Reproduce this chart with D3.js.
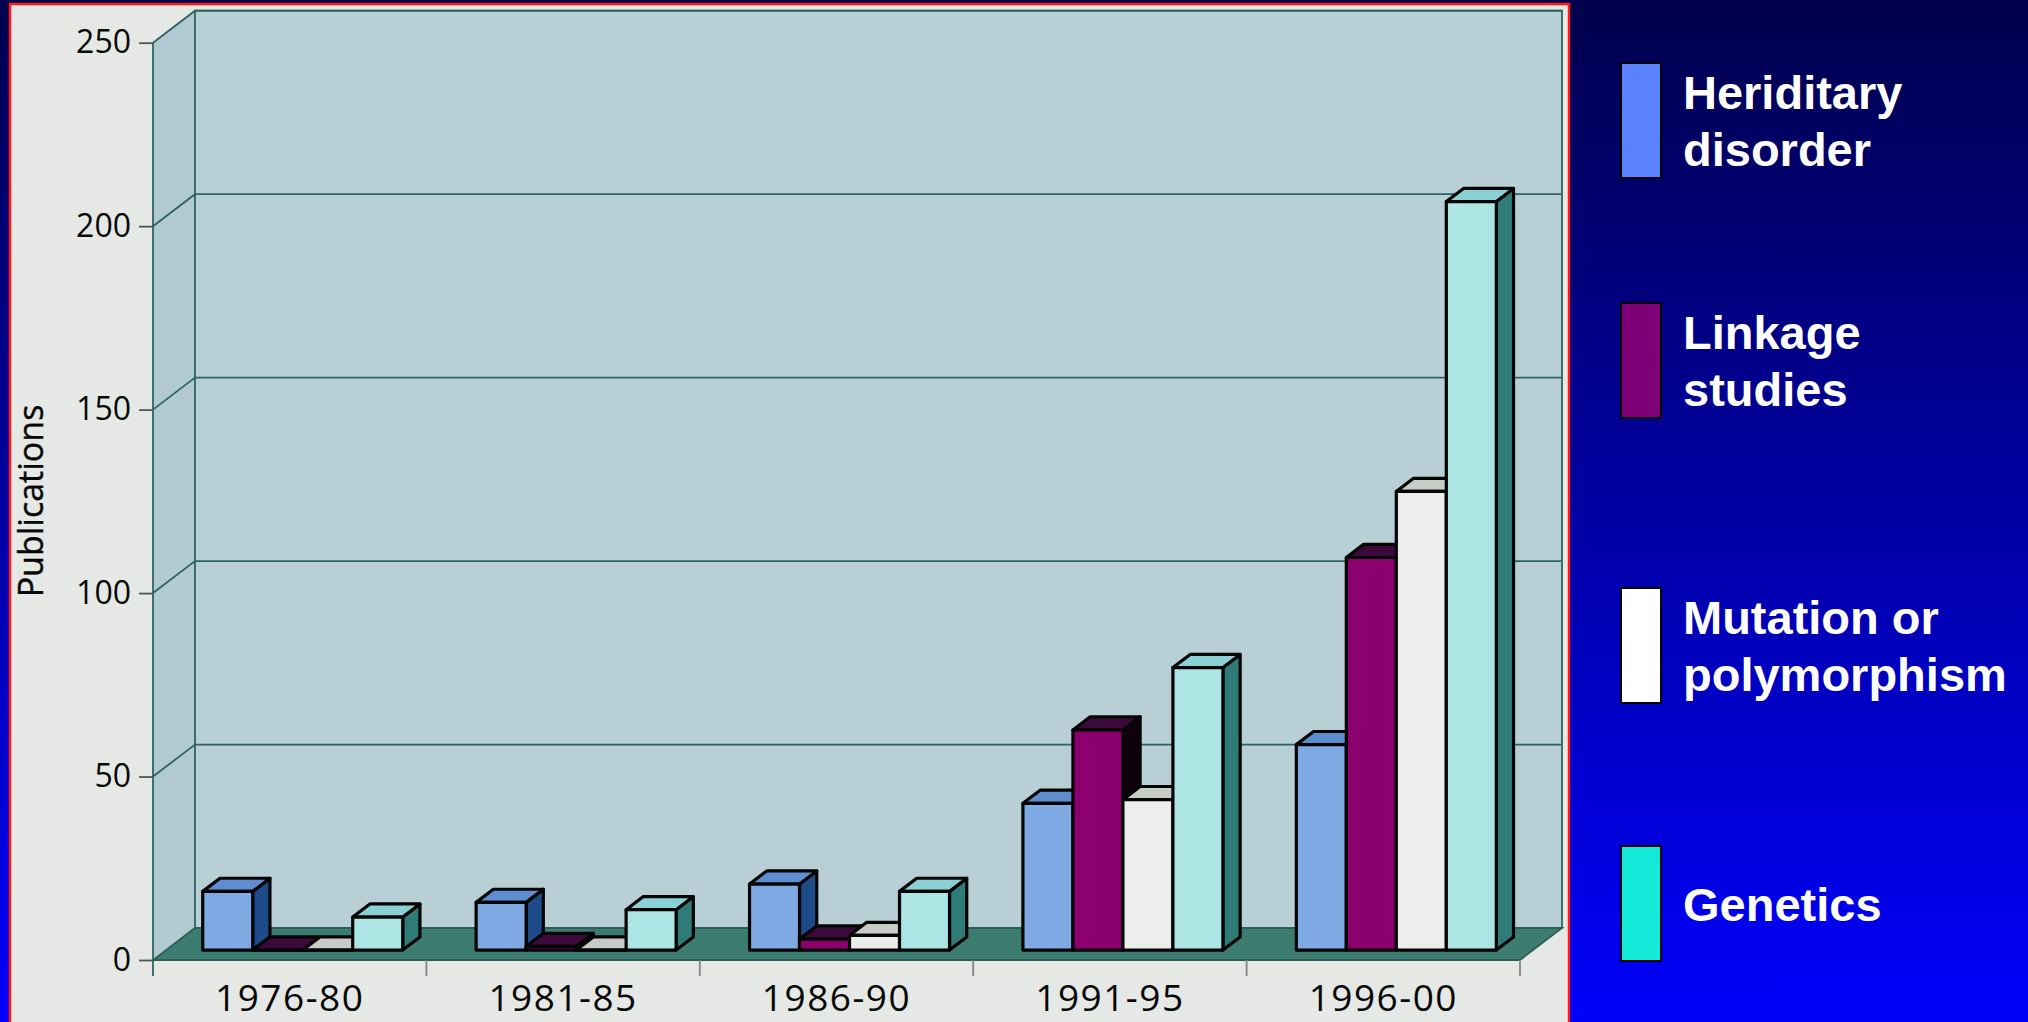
<!DOCTYPE html>
<html>
<head>
<meta charset="utf-8">
<script src="https://cdn.jsdelivr.net/npm/d3@7"></script>
<style>
  html, body { margin: 0; padding: 0; overflow: hidden; background: #00008a; }
  svg { display: block; }
</style>
</head>
<body>
<svg width="2028" height="1022"></svg>
<script>
// data
const periods = ["1976-80", "1981-85", "1986-90", "1991-95", "1996-00"];
const heriditary = [16, 13, 18, 40, 56];
const linkage = [0, 1, 3, 60, 107];
const mutation = [0, 0, 4, 41, 125];
const genetics = [9, 11, 16, 77, 204];
const seriesKeys = ["heriditary", "linkage", "mutation", "genetics"];
const legendLines = [["Heriditary", "disorder"], ["Linkage", "studies"], ["Mutation or", "polymorphism"], ["Genetics"]];
const yTicks = [0, 50, 100, 150, 200, 250];

const svg = d3.select("svg");
const width = 2028, height = 1022;

// colours: front / top / side for each series, plus the legend swatch
const palette = {
	heriditary: { front: "#7ea9e2", top: "#5e8dd0", side: "#1d4b8a", legend: "#5a82ff" },
	linkage: { front: "#8c006e", top: "#3b0a3b", side: "#0e000c", legend: "#7d0077" },
	mutation: { front: "#eceeeb", top: "#c7cdc6", side: "#9aa6a2", legend: "#ffffff" },
	genetics: { front: "#ade5e5", top: "#8bd0d5", side: "#2e7b77", legend: "#14e9d9" }
};

const plot = { left: 153, right: 1520, bottom: 960, top: 42.7 };
const depth = { dx: 42, dy: -32 };
const barZ = [0.31, 0.72];
const labelFont = "'Open Sans', 'Noto Sans', sans-serif";

//////////// BACKGROUND ////////////

const defs = svg.append("defs");
const grad = defs.append("linearGradient")
	.attr("id", "slideBg")
	.attr("x1", 0).attr("y1", 0).attr("x2", 0).attr("y2", 1);
grad.append("stop").attr("offset", "0%").attr("stop-color", "#00004c");
grad.append("stop").attr("offset", "100%").attr("stop-color", "#0000fb");

svg.append("rect")
	.attr("width", width)
	.attr("height", height)
	.attr("fill", "url(#slideBg)");

// the pasted chart picture with its red frame
svg.append("rect")
	.attr("x", 10).attr("y", 4)
	.attr("width", 1559).attr("height", 1040)
	.attr("fill", "#e5e8e4")
	.attr("stroke", "#ff1a1a")
	.attr("stroke-width", 2.5);

//////////// SCALES ////////////

const x = d3.scaleBand().domain(periods).range([plot.left, plot.right]);
const y = d3.scaleLinear().domain([0, 250]).range([plot.bottom, plot.top]);
const inner = d3.scaleBand().domain(seriesKeys).range([36.7, 236.7]);

function proj(px, py, z) {
	return [px + z * depth.dx, py + z * depth.dy];
}

function poly(points) {
	return "M" + points.map(p => p.join(",")).join("L") + "Z";
}

//////////// WALLS ////////////

const walls = svg.append("g").attr("class", "walls");
const wallStroke = "#2c6462";

// left side wall
walls.append("path")
	.attr("d", poly([
		proj(plot.left, y(250), 0), proj(plot.left, y(250), 1),
		proj(plot.left, y(0), 1), proj(plot.left, y(0), 0)
	]))
	.attr("fill", "#b1c9d0");

// back wall
const bTL = proj(plot.left, y(250), 1);
const bBR = proj(plot.right, y(0), 1);
walls.append("rect")
	.attr("x", bTL[0]).attr("y", bTL[1])
	.attr("width", bBR[0] - bTL[0]).attr("height", bBR[1] - bTL[1])
	.attr("fill", "#b8cfd5")
	.attr("stroke", wallStroke)
	.attr("stroke-width", 1.8);

// gridlines across side wall and back wall
walls.selectAll(".grid")
	.data(yTicks.filter(v => v > 0))
	.enter().append("path")
	.attr("class", "grid")
	.attr("d", v => "M" + [proj(plot.left, y(v), 0), proj(plot.left, y(v), 1), proj(plot.right, y(v), 1)].map(p => p.join(",")).join("L"))
	.attr("fill", "none")
	.attr("stroke", wallStroke)
	.attr("stroke-width", 1.8);

// floor
walls.append("path")
	.attr("d", poly([
		proj(plot.left, y(0), 0), proj(plot.right, y(0), 0),
		proj(plot.right, y(0), 1), proj(plot.left, y(0), 1)
	]))
	.attr("fill", "#3d7d71")
	.attr("stroke", "#2b5f57")
	.attr("stroke-width", 1.8);

// front vertical axis line
walls.append("line")
	.attr("x1", plot.left).attr("x2", plot.left)
	.attr("y1", y(250)).attr("y2", plot.bottom + 16)
	.attr("stroke", wallStroke)
	.attr("stroke-width", 1.8);

// category separators under the floor
walls.selectAll(".sep")
	.data(d3.range(1, periods.length + 1))
	.enter().append("line")
	.attr("class", "sep")
	.attr("x1", i => plot.left + i * x.step())
	.attr("x2", i => plot.left + i * x.step())
	.attr("y1", plot.bottom)
	.attr("y2", plot.bottom + 16)
	.attr("stroke", "#7d8784")
	.attr("stroke-width", 1.8);

//////////// AXES ////////////

const yAxis = svg.append("g")
	.attr("transform", `translate(${plot.left},0)`)
	.call(d3.axisLeft(y).tickValues(yTicks).tickSize(14).tickPadding(8));
yAxis.select(".domain").remove();
yAxis.selectAll(".tick line").attr("stroke", "#4f5553").attr("stroke-width", 1.8);
yAxis.selectAll(".tick text")
	.attr("font-family", labelFont)
	.attr("font-size", 32)
	.attr("fill", "#080808");

const xAxis = svg.append("g")
	.attr("transform", `translate(0,${plot.bottom})`)
	.call(d3.axisBottom(x).tickSize(0).tickPadding(25));
xAxis.select(".domain").remove();
xAxis.selectAll(".tick text")
	.attr("font-family", labelFont)
	.attr("font-size", 37)
	.attr("letter-spacing", 1.5)
	.attr("fill", "#080808");

svg.append("text")
	.attr("transform", "translate(43,501) rotate(-90)")
	.attr("text-anchor", "middle")
	.attr("font-family", labelFont)
	.attr("font-size", 34)
	.attr("fill", "#080808")
	.attr("stroke", "#080808")
	.attr("stroke-width", 0.4)
	.text("Publications");

//////////// BARS ////////////

const seriesData = { heriditary, linkage, mutation, genetics };

const groups = svg.append("g").attr("class", "bars")
	.selectAll("g")
	.data(periods)
	.enter().append("g");

groups.each(function(period, pi) {
	const g = d3.select(this);
	seriesKeys.forEach(key => {
		const v = seriesData[key][pi];
		const x0 = x(period) + inner(key);
		const x1 = x0 + inner.bandwidth();
		const yt = y(v), yb = y(0);
		const [z0, z1] = barZ;
		const c = palette[key];
		const faces = [
			{ fill: c.side, pts: [proj(x1, yt, z0), proj(x1, yt, z1), proj(x1, yb, z1), proj(x1, yb, z0)] },
			{ fill: c.top, pts: [proj(x0, yt, z0), proj(x1, yt, z0), proj(x1, yt, z1), proj(x0, yt, z1)] },
			{ fill: c.front, pts: [proj(x0, yt, z0), proj(x1, yt, z0), proj(x1, yb, z0), proj(x0, yb, z0)] }
		];
		g.selectAll(null)
			.data(faces)
			.enter().append("path")
			.attr("d", d => poly(d.pts))
			.attr("fill", d => d.fill)
			.attr("stroke", "#050505")
			.attr("stroke-width", 3.2)
			.attr("stroke-linejoin", "round");
	});
});

//////////// LEGEND ////////////

const legendTops = [63, 303, 588, 846];
const swatch = { x: 1621, w: 40, h: 115 };
const lineGap = 57;

const legend = svg.append("g").attr("class", "legend")
	.selectAll("g")
	.data(seriesKeys)
	.enter().append("g");

legend.append("rect")
	.attr("x", swatch.x)
	.attr("y", (d, i) => legendTops[i])
	.attr("width", swatch.w)
	.attr("height", swatch.h)
	.attr("fill", d => palette[d].legend)
	.attr("stroke", "#050505")
	.attr("stroke-width", 2);

legend.each(function(key, i) {
	const lines = legendLines[i];
	const mid = legendTops[i] + swatch.h / 2;
	const first = lines.length > 1 ? mid - 11.5 : mid + 17;
	d3.select(this).selectAll("text")
		.data(lines)
		.enter().append("text")
		.attr("x", 1683)
		.attr("y", (t, j) => first + j * lineGap)
		.attr("font-family", "'Liberation Sans', Arial, sans-serif")
		.attr("font-weight", "bold")
		.attr("font-size", 47)
		.attr("fill", "#ffffff")
		.text(t => t);
});
</script>
</body>
</html>
